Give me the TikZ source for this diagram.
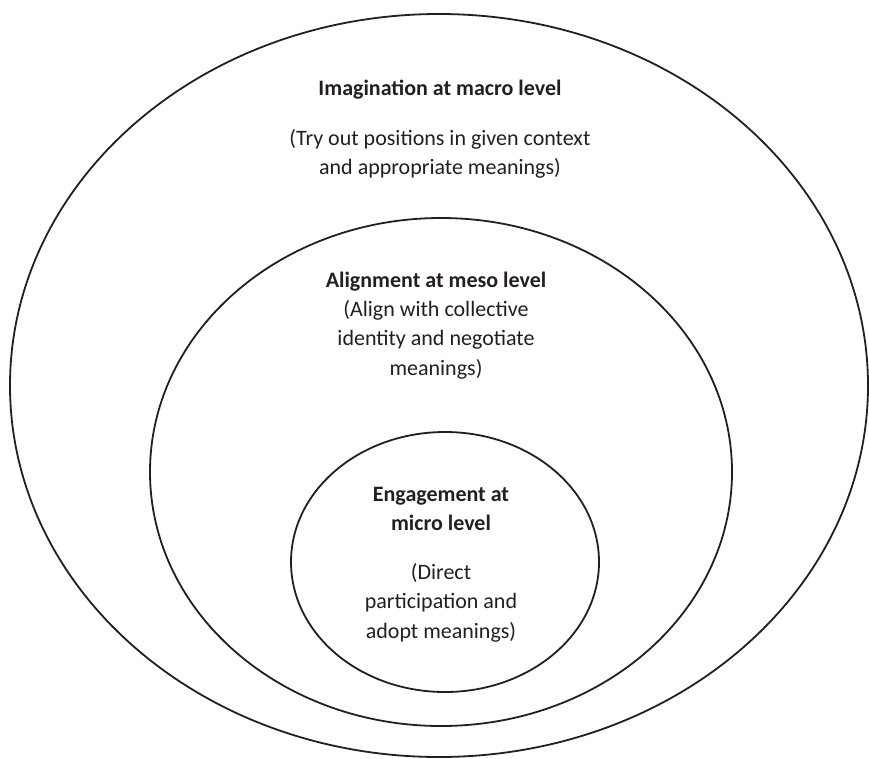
\documentclass[tikz,border=0pt]{standalone}
\usepackage{fontspec}
\setmainfont{Carlito}
\usetikzlibrary{shapes.geometric,positioning}

\definecolor{ink}{RGB}{35,31,32}

\begin{document}
\begin{tikzpicture}[
        x=1pt, y=-1pt,
        ring/.style={shape=ellipse, draw=ink, line width=1.8pt, inner sep=0pt},
        heading/.style={font=\fontsize{22}{29.5}\selectfont\bfseries, text=ink, align=center, inner sep=0pt},
        remark/.style={font=\fontsize{22}{29.5}\selectfont, text=ink, align=center, inner sep=0pt},
    ]
    \useasboundingbox (0,0) rectangle (869,758);
    % the three levels
    \node[ring, minimum width=858pt, minimum height=743pt] (macro) at (439,385.5) {};
    \node[ring, minimum width=582pt, minimum height=508pt] (meso) at (441,472) {};
    \node[ring, minimum width=308pt, minimum height=260pt] (micro) at (445,562) {};

    \node[heading] (macrotitle) at (440,90) {Imagination at macro level};
    \node[remark, below=29pt of macrotitle] (macronote) {(Try out positions in given context\\and appropriate meanings)};

    \node[heading] (mesotitle) at (436,282) {Alignment at meso level};
    \node[remark, below=8pt of mesotitle] (mesonote) {(Align with collective\\identity and negotiate\\meanings)};

    \node[heading] (microtitle) at (441,509) {Engagement at\\micro level};
    \node[remark, below=32pt of microtitle] (micronote) {(Direct\\participation and\\adopt meanings)};
\end{tikzpicture}
\end{document}
